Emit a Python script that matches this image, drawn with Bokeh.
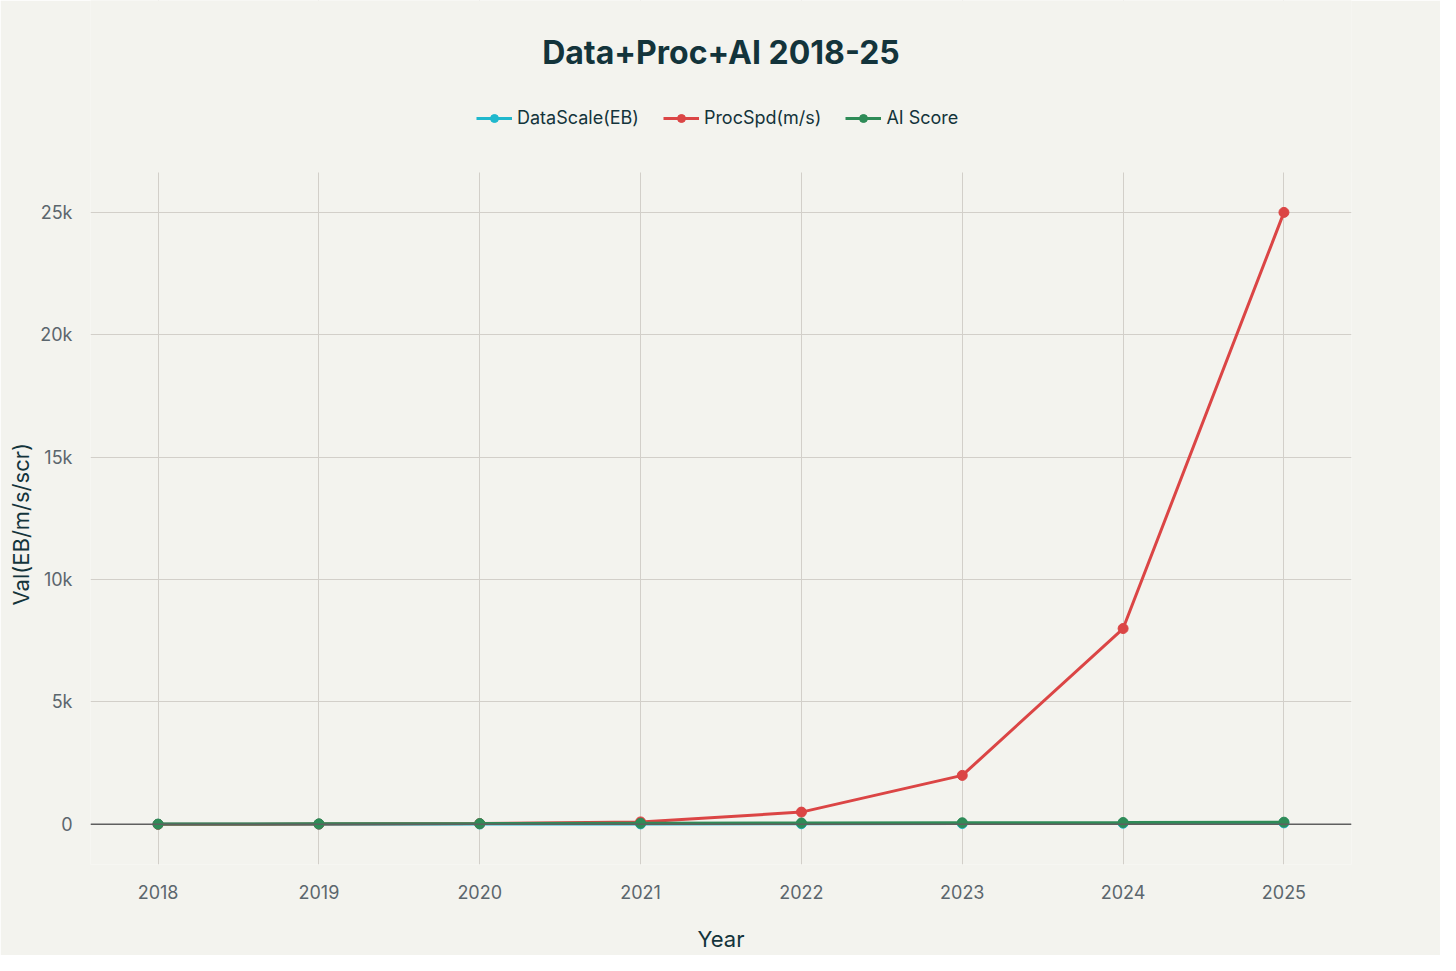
from bokeh.embed import file_html
from bokeh.models import BoxAnnotation, FixedTicker, Label, Legend, Span, Title
from bokeh.plotting import figure
from bokeh.resources import INLINE

# data
years = [2018, 2019, 2020, 2021, 2022, 2023, 2024, 2025]
data_scale = [5, 8, 12, 18, 25, 33, 45, 60]             # EB
proc_spd = [1, 10, 30, 100, 500, 2000, 8000, 25000]    # m/s
ai_score = [10, 20, 30, 45, 55, 65, 75, 90]
y_ticks = [0, 5000, 10000, 15000, 20000, 25000]
y_tick_labels = ["0", "5k", "10k", "15k", "20k", "25k"]

bg = "#f3f3ee"
dark = "#13343b"
font = "Inter"

W, H = 1440, 955
left, right, bottom = 90, 89, 91
head = 172                      # header height (title + legend) inside the frame
y_lo, y_hi = -1640, 26630       # visible data range of the plot area
frame_h = H - bottom
frame_w = W - left - right
y_top = y_hi + (y_hi - y_lo) * head / (frame_h - head)

p = figure(width=W, height=H,
           x_range=(2017.58, 2025.42), y_range=(y_lo, y_top),
           background_fill_color=bg, border_fill_color=bg,
           min_border_left=left, min_border_right=right,
           min_border_top=0, min_border_bottom=bottom,
           toolbar_location=None, output_backend="svg",
           x_axis_label="Year")
p.outline_line_color = None

p.xaxis.ticker = FixedTicker(ticks=years)
p.yaxis.ticker = FixedTicker(ticks=y_ticks)
p.yaxis.major_label_overrides = dict(zip(y_ticks, y_tick_labels))

for ax in (p.xaxis, p.yaxis):
    ax.axis_line_color = None
    ax.major_tick_line_color = None
    ax.minor_tick_line_color = None
    ax.major_label_text_font = font
    ax.major_label_text_font_size = "18px"
    ax.major_label_text_color = "#5b666d"
    ax.axis_label_text_font = font
    ax.axis_label_text_font_size = "22px"
    ax.axis_label_text_font_style = "normal"
    ax.axis_label_text_color = dark
p.xaxis.major_label_standoff = 14
p.xaxis.axis_label_standoff = 24
p.yaxis.major_label_standoff = 12

# y axis title, centred on the plot area rather than the whole frame
p.add_layout(Title(text="Val(EB/m/s/scr)", align="left", offset=259,
                   text_font=font, text_font_size="22px", text_font_style="normal",
                   text_color=dark, standoff=8), "left")

p.grid.grid_line_color = "#d2cfc9"
p.grid.grid_line_width = 1

p.add_layout(Span(location=0, dimension="width", line_color="#5f5f5f", line_width=1.5))

series = [
    ("DataScale(EB)", data_scale, "#1fb8cd"),
    ("ProcSpd(m/s)", proc_spd, "#db4545"),
    ("AI Score", ai_score, "#2e8b57"),
]
items = []
for name, vals, col in series:
    ln = p.line(years, vals, line_color=col, line_width=3)
    dots = p.scatter(years, vals, size=10, fill_color=col, line_color=col)
    items.append((name, [ln, dots]))

# header area: hide the grid above the plot area
p.add_layout(BoxAnnotation(bottom=y_hi, fill_color=bg, fill_alpha=1, line_color=None))

title = Label(x=frame_w / 2, y=frame_h - 52, x_units="screen", y_units="screen",
              text="Data+Proc+AI 2018-25", text_font=font, text_font_size="32px",
              text_font_style="bold", text_color=dark,
              text_align="center", text_baseline="middle")
p.add_layout(title)

legend = Legend(items=items, orientation="horizontal", location=(386, frame_h - 128))
legend.background_fill_alpha = 0
legend.border_line_color = None
legend.label_text_font = font
legend.label_text_font_size = "18px"
legend.label_text_color = dark
legend.glyph_width = 36
legend.spacing = 24
legend.margin = 0
legend.padding = 5
p.add_layout(legend)

open("out.html", "w").write(file_html(p, INLINE))
